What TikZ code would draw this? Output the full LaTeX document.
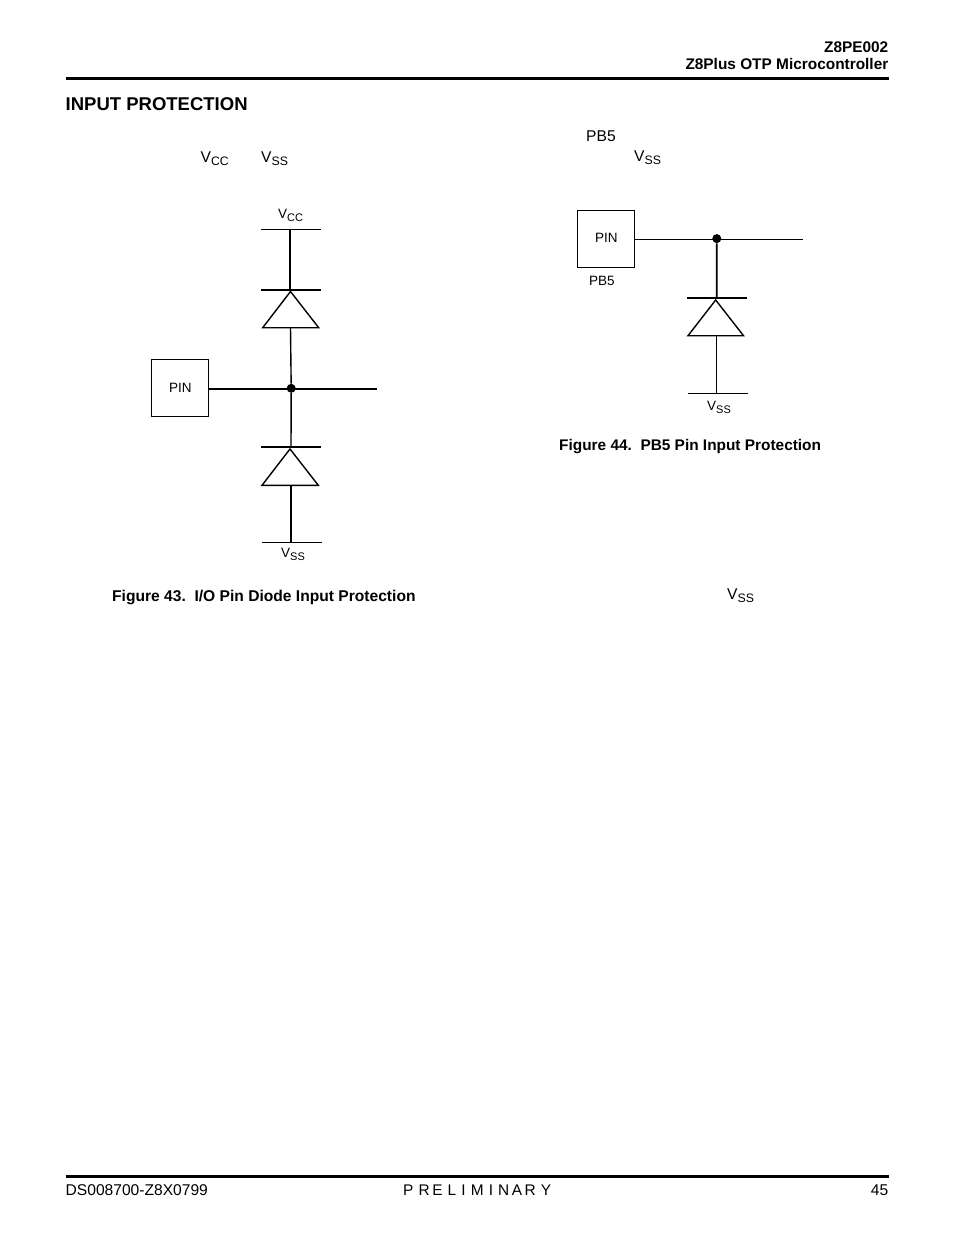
\documentclass[tikz,border=0pt]{standalone}
\usepackage{fontspec}
\setmainfont{Liberation Sans}
\newcommand{\volt}[3]{V\raisebox{-#2pt}{\fontsize{#1}{#1}\selectfont #3}}
\tikzset{
	txt/.style={anchor=base west,inner sep=0pt,font=\fontsize{15.6}{18}\selectfont},
	txtb/.style={txt,font=\fontsize{15.4}{18}\selectfont\bfseries},
	lbl/.style={anchor=base west,inner sep=0pt,font=\fontsize{13.5}{16}\selectfont},
	pinbox/.style={draw,line width=1.2pt,minimum width=57pt,minimum height=57pt,inner sep=0pt},
	wire/.style={line width=1.4pt},
	thinwire/.style={line width=1pt},
	heavywire/.style={line width=1.9pt},
	rail/.style={line width=1.4pt},
	junction/.style={circle,fill=black,inner sep=0pt,minimum size=9pt},
}
\begin{document}
\begin{tikzpicture}[x=1pt,y=-1pt]
	\useasboundingbox (0,0) rectangle (954,1235);
	\fill[white] (0,0) rectangle (954,1235);
		% page furniture
	\draw[line width=3pt] (65.5,78.3) -- (888.5,78.3);
	\draw[line width=3pt] (65.5,1176.3) -- (888.5,1176.3);
	\node[txtb,anchor=base east] (chip) at (888.5,52) {Z8PE002};
	\node[txtb,anchor=base east] (product) at (888.5,69) {Z8Plus OTP Microcontroller};
	\node[txtb,font=\fontsize{18.5}{22}\selectfont\bfseries] (title) at (65.5,110) {INPUT PROTECTION};
	\node[txt] (doc) at (65.5,1195.3) {DS008700-Z8X0799};
	\node[txt,font=\fontsize{15.4}{18}\selectfont] (prelim) at (403,1195.3) {P\,\,R\,E\,\,L\,\,I\,\,M\,\,I\,\,N\,A\,R\,\,Y};
	\node[txt,anchor=base east] (page) at (888.5,1195.3) {45};
		% fragments of body text
	\node[txt] (vcctop) at (200.5,162) {\volt{12.3}{3.3}{CC}};
	\node[txt] (vsstop) at (261,162) {\volt{12.3}{3.3}{SS}};
	\node[txt] (pbtop) at (586,141) {PB5};
	\node[txt] (vssright) at (634,161.5) {\volt{12.3}{3.3}{SS}};
	\node[txt] (vsslow) at (727,599) {\volt{12.3}{3.3}{SS}};
		% figure 43
	\node[pinbox] (pina) at (180,388) {};
	\node[lbl] (pinatxt) at (169,392) {PIN};
	\coordinate (vcca) at (290,229.7);
	\coordinate (cathu) at (290,290);
	\coordinate (apexu) at (290.5,291.5);
	\coordinate (baseu) at (290.5,327.7);
	\node[junction] (joina) at (291.2,388.3) {};
	\coordinate (outa) at (376.7,388.7);
	\coordinate (cathl) at (291,447);
	\coordinate (apexl) at (290,449);
	\coordinate (basel) at (291,485.3);
	\coordinate (vssa) at (291,542.7);
	\draw[wire] (vcca) -- (cathu);
	\draw[wire] (baseu) -- (joina);
	\draw[wire] (joina) -- (cathl);
	\draw[heavywire] (basel) -- (vssa);
	\draw[heavywire] (pina.east |- outa) -- (outa);
	\draw[rail] (260.7,229.7) -- (320.7,229.7);
	\draw[rail] (260.7,290) -- (320.7,290);
	\draw[wire,line join=miter] (apexu) -- (318.7,327.7) -- (262.7,327.7) -- cycle;
	\draw[rail] (261,447) -- (321,447);
	\draw[wire,line join=miter] (apexl) -- (318.3,485.3) -- (262,485.3) -- cycle;
	\draw[rail] (262,542.7) -- (322,542.7);
	\node[lbl] (vcclab) at (278,218) {\volt{11}{3}{CC}};
	\node[lbl] (vsslab) at (281,557) {\volt{11}{3}{SS}};
	\node[txtb,font=\fontsize{15.6}{18}\selectfont\bfseries] (figa) at (112,601) {Figure 43.\ \ I/O Pin Diode Input Protection};
		% figure 44
	\node[pinbox] (pinb) at (606,239) {};
	\node[lbl] (pinbtxt) at (595,242) {PIN};
	\node[lbl] (pblab) at (589,285) {PB5};
	\node[junction] (joinb) at (716.8,238.6) {};
	\coordinate (outb) at (802.7,239.3);
	\coordinate (cathb) at (716.7,298);
	\coordinate (apexb) at (715.7,300);
	\coordinate (baseb) at (716.3,335.7);
	\coordinate (vssb) at (716.3,393.5);
	\draw[thinwire] (pinb.east |- outb) -- (outb);
	\draw[heavywire] (joinb) -- (cathb);
	\draw[thinwire] (baseb) -- (vssb);
	\draw[heavywire] (687,298) -- (747,298);
	\draw[wire,line join=miter] (apexb) -- (743.5,335.7) -- (688,335.7) -- cycle;
	\draw[thinwire] (688,393.5) -- (748,393.5);
	\node[lbl] (vsslabb) at (707,410) {\volt{11}{3}{SS}};
	\node[txtb] (figb) at (559,450) {Figure 44.\ \ PB5 Pin Input Protection};
\end{tikzpicture}
\end{document}
